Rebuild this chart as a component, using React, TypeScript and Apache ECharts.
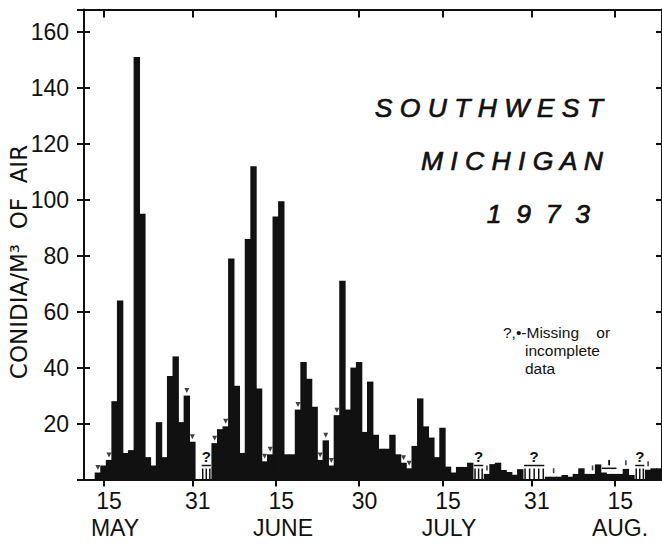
import React, { useEffect, useRef } from 'react';
import * as echarts from 'echarts';

// Daily categories: May 12 – Aug 23, 1973
const START_UTC = Date.UTC(1973, 4, 12);
const DAY_COUNT = 104;
const categories: string[] = Array.from({ length: DAY_COUNT }, (_, i) => {
  const d = new Date(START_UTC + i * 86400000);
  return `${d.getUTCMonth() + 1}-${d.getUTCDate()}`;
});

// Conidia / m3 of air, one value per day (null = missing data)
const conidia: (number | null)[] = [
  0, 0, 2.5, 5, 7, 28, 64, 9.5, 10.5, 151, 95, 8, 5, 20.5, 8, 37, 44, 20.5, 30, 13.5, // May 12 – May 31
  0, null, null, 13, 18, 19, 79, 33.5, 9.5, 86, 112, 32.5, 6.5, 9, 94, 99.5, 9, 9, 25, 42, // Jun 1 – Jun 20
  36, 26, 7, 14, 5, 23, 71, 25, 40, 42, // Jun 21 – Jun 30
  17, 35, 16, 11, 11, 16, 9, 6, 4, 12, 29, 19, 15, 8, 18.5, 4.6, 2.5, 4.5, 4.5, 6, // Jul 1 – Jul 20
  null, null, 2, 5.5, 6, 3.4, 2.7, 1.7, 3.7, null, null, null, null, // Jul 21 – Aug 2
  1, 1, 1, 1.6, 1, 2, 4, 2, 2, 5.4, 2.5, 2, 2, 2, 3.8, 1.6, null, null, 3.5, 4, 4, // Aug 3 – Aug 23
];

// Incomplete-data markers
const triangleMarkerDays = ['5-14', '5-16', '5-30', '5-31', '6-4', '6-6', '6-13', '6-14', '6-19', '6-23', '6-24', '6-25', '6-26', '7-8', '7-9'];
const tickMarkerDays = ['7-23', '8-4', '8-11', '8-14', '8-17', '8-21'];

// Missing-data spans [first day, last day]
const missingSpans: [string, string][] = [['6-2', '6-3'], ['7-21', '7-22'], ['7-30', '8-2'], ['8-19', '8-20']];
// Incomplete span drawn as a bar line
const incompleteSpans: [string, string][] = [['8-13', '8-15']];

// Axis ticks & labels
const tickDays = ['5-15', '5-31', '6-15', '6-30', '7-15', '7-31', '8-15'];
const tickTexts = ['15', '31', '15', '30', '15', '31', '15'];
const monthNames = ['MAY', 'JUNE', 'JULY', 'AUG.'];
const yTickValues = [20, 40, 60, 80, 100, 120, 140, 160];

const titleLines = ['S O U T H W E S T', 'M I C H I G A N', '1  9  7  3'];
const noteLines = ['?,•-Missing    or', 'incomplete', 'data'];

const INK = '#111111';
const FONT = 'Liberation Sans, Arial, sans-serif';
const WIDE_FONT = 'DejaVu Sans, Verdana, sans-serif';

export default function App() {
  const ref = useRef<HTMLDivElement>(null);

  useEffect(() => {
    if (!ref.current) return;
    const chart = echarts.init(ref.current, undefined, { renderer: 'svg' });

    const idx = (d: string) => categories.indexOf(d);
    const tickIdx = new Set(tickDays.map(idx));
    const tickLabel = new Map<string, string>(tickDays.map((d, i) => [d, tickTexts[i]]));
    const showTick = (i: number) => tickIdx.has(i);

    const yFmt = (v: number) => (yTickValues.includes(v) ? String(v) : '');

    const triData = triangleMarkerDays.map((d) => [idx(d), conidia[idx(d)] ?? 0]);
    const tickData = tickMarkerDays.map((d) => {
      const i = idx(d);
      let v = conidia[i] ?? 0;
      incompleteSpans.forEach(([a, b]) => {
        if (i >= idx(a) && i <= idx(b)) v = Math.max(v, 4);
      });
      return [i, v];
    });

    const spanData = [
      ...missingSpans.map(([a, b]) => [idx(a), idx(b), 5, 1]),
      ...incompleteSpans.map(([a, b]) => [idx(a), idx(b), 4, 0]),
    ];

    const commonY = { type: 'value', min: 0, max: 168, interval: 20, splitLine: { show: false } };

    const option: any = {
      animation: false,
      backgroundColor: '#ffffff',
      grid: { left: 84, right: 0, top: 9.5, bottom: 64.5, containLabel: false },
      xAxis: [
        {
          type: 'category',
          data: categories,
          position: 'bottom',
          boundaryGap: true,
          axisLine: { show: true, onZero: false, lineStyle: { color: INK, width: 2 } },
          axisTick: { show: true, alignWithLabel: true, interval: (i: number) => showTick(i), length: 7, lineStyle: { color: INK, width: 2 } },
          axisLabel: {
            interval: (i: number) => showTick(i),
            formatter: (v: string) => tickLabel.get(v) ?? '',
            fontSize: 23,
            fontFamily: FONT,
            color: INK,
            margin: 10,
            padding: [0, 0, 0, 11],
          },
          splitLine: { show: false },
        },
        {
          type: 'category',
          data: categories,
          position: 'top',
          boundaryGap: true,
          axisLine: { show: true, onZero: false, lineStyle: { color: INK, width: 2 } },
          axisTick: { show: true, inside: true, alignWithLabel: true, interval: (i: number) => showTick(i), length: 8, lineStyle: { color: INK, width: 2 } },
          axisLabel: { show: false },
          splitLine: { show: false },
        },
      ],
      yAxis: [
        {
          ...commonY,
          position: 'left',
          axisLine: { show: true, onZero: false, lineStyle: { color: INK, width: 2 } },
          axisTick: { show: true, length: 7, lineStyle: { color: INK, width: 2 } },
          axisLabel: { formatter: yFmt, fontSize: 23, fontFamily: FONT, color: INK, margin: 15 },
        },
        {
          ...commonY,
          position: 'left',
          axisLine: { show: false },
          axisTick: { show: true, inside: true, length: 6, lineStyle: { color: INK, width: 2 } },
          axisLabel: { show: false },
        },
        {
          ...commonY,
          position: 'right',
          axisLine: { show: true, onZero: false, lineStyle: { color: INK, width: 2 } },
          axisTick: { show: true, inside: true, length: 6, lineStyle: { color: INK, width: 2 } },
          axisLabel: { show: false },
        },
      ],
      series: [
        {
          type: 'bar',
          data: conidia,
          xAxisIndex: 0,
          yAxisIndex: 0,
          barWidth: 6.4,
          itemStyle: { color: INK },
        },
        {
          type: 'scatter',
          data: triData,
          xAxisIndex: 0,
          yAxisIndex: 0,
          symbol: 'triangle',
          symbolRotate: 180,
          symbolSize: [5, 5],
          symbolOffset: [0, -5],
          itemStyle: { color: INK },
          z: 5,
        },
        {
          type: 'scatter',
          data: tickData,
          xAxisIndex: 0,
          yAxisIndex: 0,
          symbol: 'rect',
          symbolSize: [1.6, 5],
          symbolOffset: [0, -6],
          itemStyle: { color: INK },
          z: 5,
        },
        {
          type: 'custom',
          xAxisIndex: 0,
          yAxisIndex: 0,
          data: spanData,
          encode: { x: [0, 1], y: 2 },
          z: 6,
          renderItem: (_params: any, api: any) => {
            const s = api.value(0);
            const e = api.value(1);
            const lvl = api.value(2);
            const q = api.value(3);
            const bw = api.size([1, 0])[0];
            const p0 = api.coord([s, 0]);
            const p1 = api.coord([e, 0]);
            const yl = api.coord([s, lvl])[1];
            const x0 = p0[0] - bw / 2 + 1;
            const x1 = p1[0] + bw / 2 - 1;
            const yb = p0[1];
            const stroke = { stroke: INK, lineWidth: 1.5 };
            const children: any[] = [
              { type: 'line', shape: { x1: x0, y1: yl, x2: x1, y2: yl }, style: stroke },
            ];
            if (q) {
              const n = e - s + 2;
              for (let k = 0; k < n; k++) {
                const x = x0 + 1 + ((x1 - x0 - 2) * k) / (n - 1);
                children.push({ type: 'line', shape: { x1: x, y1: yl + 3, x2: x, y2: yb }, style: stroke });
              }
              children.push({
                type: 'text',
                x: (x0 + x1) / 2,
                y: yl - 2,
                style: { text: '?', fontSize: 15, fontWeight: 'bold', fontFamily: FONT, fill: INK, align: 'center', verticalAlign: 'bottom' },
              });
            } else {
              children.push({
                type: 'rect',
                shape: { x: (x0 + x1) / 2 - 0.8, y: yl - 8, width: 1.6, height: 5 },
                style: { fill: INK },
              });
            }
            return { type: 'group', children };
          },
        },
      ],
      graphic: [
        {
          type: 'text',
          x: 19,
          y: 262,
          rotation: Math.PI / 2,
          style: { text: 'CONIDIA/M³  OF  AIR', fontSize: 23, fontFamily: WIDE_FONT, fill: INK, align: 'center', verticalAlign: 'middle' },
        },
        ...monthNames.map((m, i) => ({
          type: 'text',
          x: [115, 283, 449, 620][i],
          y: 528,
          style: { text: m, fontSize: 23, fontFamily: FONT, fill: INK, align: 'center', verticalAlign: 'middle' },
        })),
        ...titleLines.map((t, i) => ({
          type: 'text',
          x: [603, 603, 590][i],
          y: [108, 161, 214][i],
          style: {
            text: t,
            fontSize: 26.5,
            fontStyle: 'italic',
            fontFamily: FONT,
            fill: INK,
            stroke: INK,
            lineWidth: 0.7,
            align: 'right',
            verticalAlign: 'middle',
          },
        })),
        ...noteLines.map((t, i) => ({
          type: 'text',
          x: [503, 525, 525][i],
          y: [332, 350, 368][i],
          style: { text: t, fontSize: 15.5, fontFamily: FONT, fill: INK, align: 'left', verticalAlign: 'middle' },
        })),
      ],
    };

    chart.setOption(option);
    return () => chart.dispose();
  }, []);

  return (
    <div
      ref={ref}
      style={{ position: 'absolute', left: 0, top: 0, width: 662, height: 544, background: '#fff' }}
    />
  );
}
